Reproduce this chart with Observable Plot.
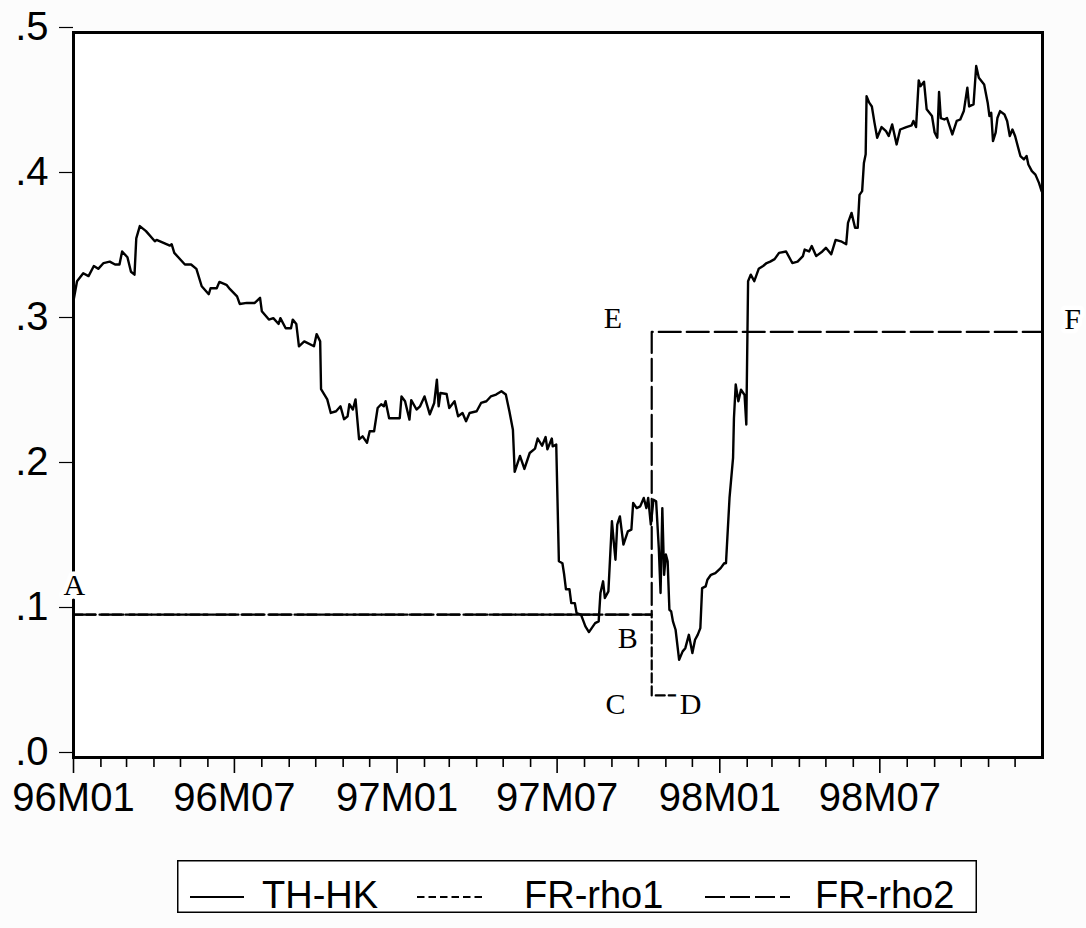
<!DOCTYPE html>
<html><head><meta charset="utf-8">
<script src="https://cdn.jsdelivr.net/npm/d3@7"></script>
<script src="https://cdn.jsdelivr.net/npm/@observablehq/plot@0.6"></script>
<style>
html,body{margin:0;padding:0;background:#fcfcfc;}
#wrap{position:relative;width:1086px;height:928px;overflow:hidden;}
#chart{position:absolute;left:0;top:0;}
#legend{position:absolute;left:177px;top:860px;overflow:visible;}
</style></head>
<body><div id="wrap"><div id="chart"></div><svg id="legend" width="802" height="66"></svg></div>
<script>
// ---- data ----
const thDates = ["1996-01-01","1996-01-05","1996-01-12","1996-01-18","1996-01-24","1996-01-29","1996-02-04","1996-02-11","1996-02-17","1996-02-22","1996-02-25","1996-03-02","1996-03-06","1996-03-10","1996-03-12","1996-03-16","1996-03-23","1996-04-02","1996-04-04","1996-04-19","1996-04-21","1996-04-24","1996-05-06","1996-05-13","1996-05-19","1996-05-25","1996-06-02","1996-06-04","1996-06-11","1996-06-14","1996-06-22","1996-06-26","1996-07-04","1996-07-07","1996-07-15","1996-07-24","1996-07-30","1996-08-01","1996-08-09","1996-08-14","1996-08-20","1996-08-22","1996-08-28","1996-09-03","1996-09-05","1996-09-09","1996-09-12","1996-09-18","1996-09-29","1996-10-02","1996-10-06","1996-10-07","1996-10-14","1996-10-18","1996-10-24","1996-10-29","1996-11-02","1996-11-06","1996-11-08","1996-11-12","1996-11-15","1996-11-19","1996-11-23","1996-11-28","1996-12-01","1996-12-06","1996-12-10","1996-12-14","1996-12-17","1996-12-19","1996-12-23","1997-01-04","1997-01-06","1997-01-10","1997-01-15","1997-01-17","1997-01-23","1997-01-27","1997-02-01","1997-02-07","1997-02-12","1997-02-15","1997-02-17","1997-02-19","1997-02-26","1997-03-01","1997-03-07","1997-03-11","1997-03-16","1997-03-20","1997-03-24","1997-04-01","1997-04-06","1997-04-12","1997-04-17","1997-04-23","1997-04-29","1997-05-04","1997-05-08","1997-05-12","1997-05-14","1997-05-20","1997-05-25","1997-05-31","1997-06-06","1997-06-09","1997-06-14","1997-06-18","1997-06-20","1997-06-25","1997-06-26","1997-06-30","1997-07-03","1997-07-07","1997-07-09","1997-07-11","1997-07-15","1997-07-17","1997-07-21","1997-07-23","1997-07-28","1997-08-02","1997-08-06","1997-08-13","1997-08-17","1997-08-19","1997-08-22","1997-08-24","1997-08-28","1997-09-01","1997-09-03","1997-09-05","1997-09-07","1997-09-10","1997-09-14","1997-09-19","1997-09-23","1997-09-25","1997-09-29","1997-10-03","1997-10-07","1997-10-10","1997-10-12","1997-10-15","1997-10-18","1997-10-21","1997-10-24","1997-10-26","1997-10-28","1997-10-30","1997-11-01","1997-11-03","1997-11-05","1997-11-07","1997-11-09","1997-11-12","1997-11-16","1997-11-20","1997-11-23","1997-11-27","1997-12-01","1997-12-04","1997-12-07","1997-12-10","1997-12-12","1997-12-16","1997-12-18","1997-12-22","1997-12-27","1998-01-02","1998-01-06","1998-01-08","1998-01-12","1998-01-16","1998-01-17","1998-01-19","1998-01-22","1998-01-25","1998-01-29","1998-01-31","1998-02-02","1998-02-05","1998-02-09","1998-02-14","1998-02-19","1998-02-23","1998-02-27","1998-03-04","1998-03-09","1998-03-17","1998-03-24","1998-03-30","1998-04-05","1998-04-07","1998-04-12","1998-04-15","1998-04-20","1998-04-27","1998-05-01","1998-05-07","1998-05-12","1998-05-18","1998-05-24","1998-05-26","1998-05-30","1998-06-03","1998-06-06","1998-06-08","1998-06-11","1998-06-13","1998-06-15","1998-06-16","1998-06-19","1998-06-22","1998-06-25","1998-06-28","1998-07-03","1998-07-08","1998-07-11","1998-07-15","1998-07-20","1998-07-24","1998-07-31","1998-08-06","1998-08-08","1998-08-11","1998-08-14","1998-08-16","1998-08-20","1998-08-23","1998-08-29","1998-09-01","1998-09-04","1998-09-06","1998-09-08","1998-09-12","1998-09-15","1998-09-21","1998-09-26","1998-09-30","1998-10-04","1998-10-08","1998-10-10","1998-10-15","1998-10-18","1998-10-21","1998-10-27","1998-10-31","1998-11-02","1998-11-04","1998-11-06","1998-11-09","1998-11-11","1998-11-14","1998-11-19","1998-11-22","1998-11-25","1998-11-28","1998-12-01","1998-12-07","1998-12-11","1998-12-14","1998-12-16","1998-12-20","1998-12-24","1998-12-28","1998-12-31"];
const thValues = [0.315,0.3285,0.334,0.332,0.339,0.337,0.341,0.342,0.340,0.340,0.349,0.345,0.335,0.333,0.358,0.3665,0.363,0.356,0.357,0.353,0.354,0.348,0.340,0.340,0.337,0.325,0.3195,0.3236,0.3236,0.328,0.326,0.323,0.318,0.3128,0.3135,0.3135,0.317,0.3078,0.302,0.303,0.299,0.303,0.296,0.296,0.302,0.299,0.2836,0.287,0.2836,0.292,0.287,0.254,0.247,0.2376,0.2388,0.2422,0.2333,0.2353,0.2436,0.240,0.247,0.2195,0.2215,0.217,0.225,0.225,0.241,0.2436,0.2422,0.2457,0.234,0.234,0.249,0.2457,0.233,0.2464,0.240,0.2422,0.249,0.2367,0.2445,0.2606,0.2422,0.2514,0.2507,0.241,0.2457,0.2353,0.2376,0.2319,0.2376,0.2388,0.2445,0.2457,0.249,0.2503,0.2526,0.2503,0.2388,0.226,0.197,0.208,0.199,0.21,0.213,0.22,0.215,0.221,0.2125,0.22,0.2146,0.2158,0.1353,0.134,0.126,0.116,0.116,0.1065,0.1065,0.0996,0.0985,0.0904,0.0865,0.0927,0.0939,0.1134,0.1215,0.11,0.1146,0.1629,0.149,0.1364,0.1606,0.1663,0.1468,0.156,0.1571,0.1755,0.172,0.1732,0.179,0.172,0.179,0.1606,0.1778,0.1767,0.1445,0.1134,0.172,0.126,0.14,0.1353,0.1019,0.1008,0.0939,0.0881,0.0674,0.0732,0.0754,0.0846,0.072,0.0812,0.0846,0.0892,0.1168,0.118,0.1226,0.126,0.1272,0.1306,0.134,0.134,0.179,0.2066,0.234,0.2572,0.2457,0.2537,0.25,0.2296,0.3285,0.333,0.3285,0.337,0.339,0.341,0.342,0.3437,0.348,0.349,0.341,0.342,0.3458,0.3503,0.349,0.3527,0.3458,0.349,0.3515,0.347,0.357,0.356,0.354,0.3687,0.3756,0.3653,0.3653,0.388,0.3906,0.41,0.416,0.456,0.4516,0.449,0.4377,0.4274,0.4348,0.432,0.4286,0.4366,0.4228,0.4331,0.4348,0.436,0.439,0.4348,0.467,0.463,0.466,0.447,0.4424,0.431,0.4274,0.459,0.441,0.44,0.441,0.4297,0.439,0.44,0.4458,0.462,0.449,0.4504,0.4769,0.4688,0.4642,0.4516,0.4424,0.4446,0.4251,0.431,0.441,0.4458,0.4435,0.439,0.4286,0.4331,0.4286,0.4148,0.4125,0.4148,0.409,0.4044,0.402,0.3963,0.3906];

const rho1Dates  = ["1996-01-01","1997-10-16","1997-10-16","1997-11-16"];
const rho1Values = [0.0985,0.0985,0.0428,0.0428];
const rho2Dates  = ["1996-01-01","1997-10-16","1997-10-16","1998-12-31"];
const rho2Values = [0.0985,0.0985,0.2935,0.2935];

const pointNames  = ["A","B","C","D","E","F"];
const pointDates  = ["1996-01-02","1997-09-19","1997-09-05","1997-11-29","1997-09-02","1999-02-04"];
const pointValues = [0.1185,0.0821,0.0366,0.0366,0.3030,0.3020];

const yTicks = [0,0.1,0.2,0.3,0.4,0.5];
const yTickLabels = [".0",".1",".2",".3",".4",".5"];
const xTickDates = ["1996-01-01","1996-07-01","1997-01-01","1997-07-01","1998-01-01","1998-07-01"];
const xTickLabels = ["96M01","96M07","97M01","97M07","98M01","98M07"];

const seriesNames = ["TH-HK","FR-rho1","FR-rho2"];

// ---- build ----
const D = s => new Date(s + "T00:00:00Z");
const th = thDates.map((d,i)=>({date:D(d), value:thValues[i]}));
const r1 = rho1Dates.map((d,i)=>({date:D(d), value:rho1Values[i]}));
const r2 = rho2Dates.map((d,i)=>({date:D(d), value:rho2Values[i]}));
const pts = pointNames.map((n,i)=>({name:n, date:D(pointDates[i]), value:pointValues[i]}));
const majors = xTickDates.map(D);
const majorLabel = new Map(majors.map((d,i)=>[+d, xTickLabels[i]]));
const minors = d3.utcMonth.range(D("1996-02-01"), D("1999-01-01")).filter(d => !majorLabel.has(+d));

const chart = Plot.plot({
  width:1086, height:840,
  marginLeft:73, marginRight:44, marginTop:32, marginBottom:83,
  style:{fontFamily:"'Liberation Sans', Arial, sans-serif", background:"transparent", color:"black"},
  x:{type:"utc", domain:[D("1996-01-01"), D("1999-01-01")], label:null},
  y:{domain:[0,0.5], label:null},
  marks:[
    Plot.frame({fill:"white", stroke:null}),
    Plot.axisY({ticks:yTicks, tickFormat:d=>yTickLabels[yTicks.indexOf(d)], tickSize:14, tickPadding:11, fontSize:40, dy:-5, strokeWidth:1.2, label:null}),
    Plot.axisX({ticks:minors, tickFormat:()=>"", tickSize:10, strokeWidth:1.6, label:null}),
    Plot.axisX({ticks:majors, tickFormat:d=>majorLabel.get(+d), tickSize:16, tickPadding:9, fontSize:40, strokeWidth:1.6, label:null}),
    Plot.line(r2, {x:"date", y:"value", stroke:"black", strokeWidth:2.2, strokeDasharray:"22,6"}),
    Plot.line(r1, {x:"date", y:"value", stroke:"black", strokeWidth:2.2, strokeDasharray:"9,4"}),
    Plot.line(th, {x:"date", y:"value", stroke:"black", strokeWidth:2.4}),
    Plot.frame({stroke:"black", strokeWidth:3}),
    Plot.text(pts, {x:"date", y:"value", text:"name", fontFamily:"'Liberation Serif', 'Times New Roman', serif", fontSize:30, fill:"black", stroke:"white", strokeWidth:9, textAnchor:"middle", lineAnchor:"middle"})
  ]
});
document.getElementById("chart").appendChild(chart);

// ---- legend ----
const lg = d3.select("#legend");
lg.append("rect").attr("x",0.75).attr("y",0.75).attr("width",798.5).attr("height",51.5).attr("fill","white").attr("stroke","black").attr("stroke-width",1.5);
const legendItems = [
  {x1:13, x2:67, tx:85, dash:null},
  {x1:240, x2:309, tx:347, dash:"7.5,4"},
  {x1:528, x2:613, tx:638, dash:"20,5"}
];
legendItems.forEach((it,i)=>{
  lg.append("line").attr("x1",it.x1).attr("x2",it.x2).attr("y1",37).attr("y2",37)
    .attr("stroke","black").attr("stroke-width",2).attr("stroke-dasharray",it.dash);
  lg.append("text").attr("x",it.tx).attr("y",48).text(seriesNames[i])
    .attr("font-family","'Liberation Sans', Arial, sans-serif").attr("font-size",38).attr("fill","black");
});
</script>
</body></html>
